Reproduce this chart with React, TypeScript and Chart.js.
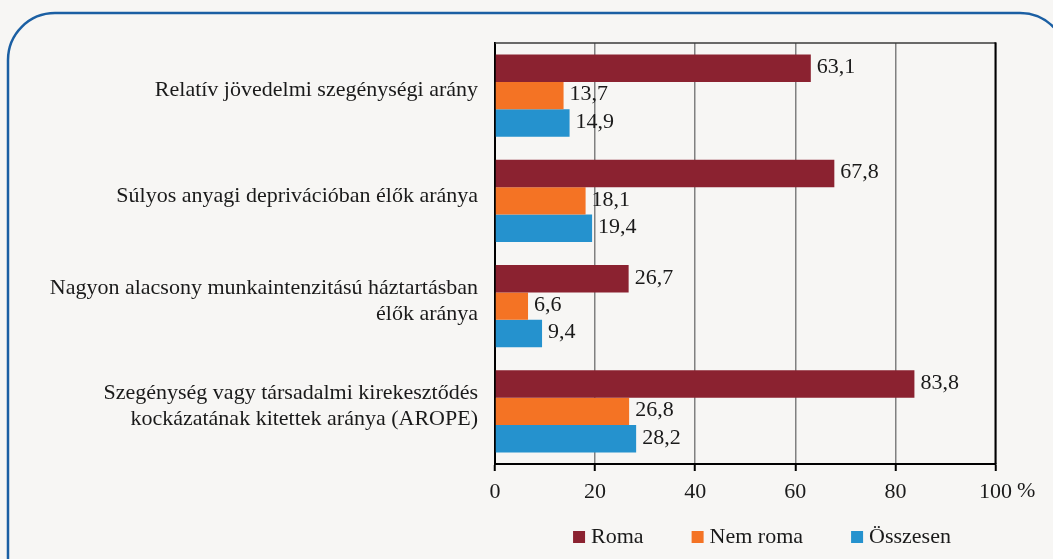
import React, { useEffect, useRef } from 'react';
import { Chart, registerables } from 'chart.js';

Chart.register(...registerables);

const categories: (string | string[])[] = [
  'Relatív jövedelmi szegénységi arány',
  'Súlyos anyagi deprivációban élők aránya',
  ['Nagyon alacsony munkaintenzitású háztartásban', 'élők aránya'],
  ['Szegénység vagy társadalmi kirekesztődés', 'kockázatának kitettek aránya (AROPE)'],
];
const seriesNames = ['Roma', 'Nem roma', 'Összesen'];
const roma = [63.1, 67.8, 26.7, 83.8];
const nemRoma = [13.7, 18.1, 6.6, 26.8];
const osszesen = [14.9, 19.4, 9.4, 28.2];
const seriesColors = ['#8B2230', '#F47324', '#2592CE'];
const xMin = 0;
const xMax = 100;
const xStep = 20;
const unitLabel = '%';

const FONT = '"Liberation Serif", "DejaVu Serif", serif';
const TEXT = '#1a1a1a';
const BG = '#f7f6f4';

const fmt = (v: number) => v.toFixed(1).replace('.', ',');

export default function App() {
  const ref = useRef<HTMLCanvasElement | null>(null);

  useEffect(() => {
    if (!ref.current) return;

    const backgroundPlugin = {
      id: 'bgFrame',
      beforeDraw(chart: any) {
        const ctx = chart.ctx;
        ctx.save();
        ctx.fillStyle = BG;
        ctx.fillRect(0, 0, chart.width, chart.height);
        ctx.beginPath();
        (ctx as any).roundRect(8, 13, 1059, 640, 47);
        ctx.lineWidth = 2.5;
        ctx.strokeStyle = '#1b5fa3';
        ctx.stroke();
        ctx.restore();
      },
    };

    const overlayPlugin = {
      id: 'overlay',
      afterDraw(chart: any) {
        const ctx = chart.ctx;
        const area = chart.chartArea;
        ctx.save();
        // frame top & right
        ctx.strokeStyle = '#3a3a3a';
        ctx.lineWidth = 1.5;
        ctx.beginPath();
        ctx.moveTo(area.left, area.top);
        ctx.lineTo(area.right, area.top);
        ctx.stroke();
        ctx.strokeStyle = '#000';
        ctx.lineWidth = 2;
        ctx.beginPath();
        ctx.moveTo(area.right, area.top - 0.75);
        ctx.lineTo(area.right, area.bottom);
        ctx.stroke();

        // data labels
        ctx.font = `22px ${FONT}`;
        ctx.fillStyle = TEXT;
        ctx.textAlign = 'left';
        ctx.textBaseline = 'middle';
        chart.data.datasets.forEach((ds: any, di: number) => {
          const meta = chart.getDatasetMeta(di);
          meta.data.forEach((bar: any, i: number) => {
            ctx.fillText(fmt(ds.data[i]), bar.x + 6, bar.y - 1);
          });
        });

        // unit label after last tick
        const xs = chart.scales.x;
        const px = xs.getPixelForValue(xMax);
        const w100 = ctx.measureText(String(xMax)).width;
        ctx.fillText(unitLabel, px + w100 / 2 + 5, 491);

        // legend
        const box = 12;
        const gapBoxText = 6;
        const gapItems = 48;
        const widths = chart.data.datasets.map((ds: any) => ctx.measureText(ds.label).width);
        const total =
          widths.reduce((a: number, b: number) => a + b, 0) +
          widths.length * (box + gapBoxText) +
          (widths.length - 1) * gapItems;
        let x = 762 - total / 2;
        const ly = 537;
        chart.data.datasets.forEach((ds: any, di: number) => {
          ctx.fillStyle = ds.backgroundColor;
          ctx.fillRect(x, ly - box / 2, box, box);
          x += box + gapBoxText;
          ctx.fillStyle = TEXT;
          ctx.fillText(ds.label, x, ly);
          x += widths[di] + gapItems;
        });
        ctx.restore();
      },
    };

    const chart = new Chart(ref.current, {
      type: 'bar',
      data: {
        labels: categories,
        datasets: [roma, nemRoma, osszesen].map((d, i) => ({
          label: seriesNames[i],
          data: d,
          backgroundColor: seriesColors[i],
          borderWidth: 0,
          categoryPercentage: 0.78,
          barPercentage: 1,
        })),
      },
      options: {
        indexAxis: 'y',
        responsive: false,
        animation: false,
        devicePixelRatio: 1,
        layout: { padding: { top: 43, right: 57.5, bottom: 0, left: 0 } },
        plugins: {
          legend: { display: false },
          tooltip: { enabled: false },
          title: { display: false },
        },
        scales: {
          x: {
            min: xMin,
            max: xMax,
            ticks: {
              stepSize: xStep,
              color: TEXT,
              font: { family: FONT, size: 22 },
              padding: 8,
              maxRotation: 0,
            },
            grid: {
              color: '#808080',
              lineWidth: 1.5,
              drawTicks: true,
              tickLength: 7,
              tickColor: '#000',
              tickWidth: 2,
            },
            border: { display: true, color: '#000', width: 2 },
            afterFit(scale: any) {
              scale.height = 95;
            },
          },
          y: {
            ticks: {
              color: TEXT,
              font: { family: FONT, size: 22, lineHeight: 1.18 },
              padding: 9,
              labelOffset: -5,
            },
            grid: { display: false },
            border: { display: true, color: '#000', width: 2 },
            afterFit(scale: any) {
              scale.width = 495;
            },
          },
        },
      },
      plugins: [backgroundPlugin, overlayPlugin],
    } as any);

    return () => chart.destroy();
  }, []);

  return (
    <div style={{ position: 'fixed', left: 0, top: 0, width: 1053, height: 559, background: BG }}>
      <canvas ref={ref} width={1053} height={559} style={{ display: 'block', width: 1053, height: 559 }} />
    </div>
  );
}
